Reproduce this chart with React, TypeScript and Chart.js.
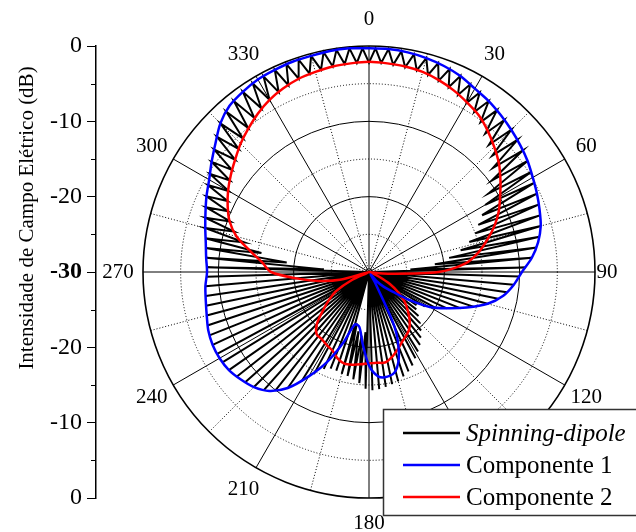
import React, { useEffect, useRef } from 'react';
import { Chart, registerables } from 'chart.js';

Chart.register(...registerables);

const FONT = "'Liberation Serif', 'Times New Roman', serif";

// Polar grid: one category every 5/3 degree, clockwise from the top
const STEP_DEG = 5 / 3;
const ANGLE_COUNT = 216;
const ANGLE_TICKS = [0, 30, 60, 90, 120, 150, 180, 210, 240, 270, 300, 330];

// Radial range in dB
const DB_MIN = -30;
const DB_MAX = 0;

const AXIS_TITLE = 'Intensidade de Campo Elétrico (dB)';
const SERIES_NAMES = ['Spinning-dipole', 'Componente 1', 'Componente 2'];
const SERIES_COLORS = ['#000000', '#0000ff', '#ff0000'];

// Componente 1, every 5 degrees from 0 to 355
const COMP1_DB = [
  -0.3, -0.3, -0.4, -0.6, -0.9, -1.3, -1.9, -2.3, -2.8, -3.3, -3.8, -4.3,
  -4.9, -5.4, -5.9, -6.4, -7.2, -8.3, -9.7, -10.7, -11.9, -13.7, -16.2, -18.6,
  -20.7, -23.6, -26.0, -27.2, -28.4, -29.6, -28.5, -22.0, -18.4, -16.4, -15.9, -16.1,
  -17.6, -20.4, -22.6, -22.8, -20.0, -16.8, -14.0, -11.2, -9.4, -8.4, -7.8, -7.3,
  -7.1, -7.1, -7.3, -7.7, -8.0, -8.2, -8.5, -8.3, -8.0, -7.5, -6.9, -6.2,
  -5.5, -4.5, -3.4, -2.1, -1.2, -0.8, -0.5, -0.4, -0.3, -0.3, -0.2, -0.2,
];

// Componente 2, every 5 degrees from 0 to 355
const COMP2_DB = [
  -2.1, -2.2, -2.3, -2.5, -2.9, -3.4, -4.0, -4.6, -5.5, -6.5, -7.5, -8.7,
  -9.9, -11.0, -12.3, -13.8, -15.3, -17.2, -20.8, -27.5, -29.8, -30.0, -29.5, -28.5,
  -26.8, -25.2, -23.8, -22.7, -21.6, -20.7, -20.2, -19.7, -19.0, -18.3, -17.8, -17.9,
  -17.9, -17.7, -17.5, -17.4, -17.8, -18.5, -18.8, -19.1, -19.2, -20.2, -22.0, -23.5,
  -25.0, -27.5, -29.8, -26.0, -23.2, -20.3, -17.0, -15.8, -14.0, -11.8, -10.3, -9.3,
  -8.4, -7.6, -6.8, -5.9, -5.1, -4.3, -3.6, -3.1, -2.7, -2.5, -2.3, -2.2,
];

// Spinning dipole minima at 0, 3.33, 6.67 ... degrees
const DIPOLE_MIN_DB = [
  -2.2, -2.2, -2.3, -2.4, -2.5, -2.7, -3.0, -3.3, -3.7, -4.1,
  -4.6, -5.2, -6.0, -6.8, -7.5, -8.5, -9.7, -11.0, -12.2, -13.2,
  -14.2, -15.0, -16.1, -17.5, -19.2, -21.2, -24.5, -30, -30, -30,
  -30, -30, -30, -30, -30, -30, -30, -30, -30, -30,
  -30, -30, -30, -30, -30, -30, -30, -30, -30, -30,
  -30, -30, -30, -30, -30, -22.0, -21.5, -22.0, -23.0, -30,
  -30, -30, -30, -30, -30, -30, -30, -30, -30, -30,
  -30, -30, -30, -30, -30, -30, -30, -30, -30, -30,
  -30, -30, -24.0, -19.0, -15.5, -13.0, -11.3, -10.4, -9.6, -9.0,
  -8.5, -7.9, -7.3, -6.8, -6.2, -5.6, -5.0, -4.5, -4.0, -3.6,
  -3.3, -3.0, -2.7, -2.5, -2.4, -2.3, -2.2, -2.2,
];

// Spinning dipole maxima at 1.67, 5, 8.33 ... degrees
const DIPOLE_MAX_DB = [
  -0.3, -0.3, -0.4, -0.5, -0.6, -0.8, -1.0, -1.3, -1.7, -2.0,
  -2.3, -2.6, -3.0, -3.3, -3.6, -4.0, -4.3, -4.7, -5.1, -5.4,
  -5.7, -6.1, -6.4, -6.9, -7.5, -8.3, -9.2, -10.0, -10.7, -11.5,
  -12.5, -13.7, -15.3, -16.9, -18.6, -20.1, -21.3, -22.3, -22.0, -21.2,
  -20.4, -19.6, -18.9, -18.2, -17.6, -17.0, -16.3, -15.8, -15.4, -15.0,
  -14.8, -14.6, -14.4, -14.3, -14.5, -15.2, -15.6, -15.9, -16.0, -16.2,
  -16.2, -15.8, -14.6, -13.0, -11.2, -9.9, -9.0, -8.4, -8.0, -7.6,
  -7.3, -7.2, -7.1, -7.1, -7.2, -7.4, -7.7, -7.9, -8.1, -8.2,
  -8.4, -8.4, -8.3, -8.1, -7.8, -7.5, -7.1, -6.7, -6.2, -5.7,
  -5.2, -4.5, -3.8, -3.0, -2.1, -1.5, -1.1, -0.8, -0.6, -0.5,
  -0.4, -0.3, -0.3, -0.3, -0.2, -0.2, -0.2, -0.3,
];

const angleLabels = Array.from({ length: ANGLE_COUNT }, (_, i) => (i * STEP_DEG).toFixed(2));

// minima and maxima alternate around the circle
const dipoleSeries = DIPOLE_MIN_DB.flatMap((v, k) => [v, DIPOLE_MAX_DB[k]]);

// 5-degree series placed on every third category, gaps spanned by the line
const onFiveDegrees = (values: number[]) =>
  angleLabels.map((_, i) => (i % 3 === 0 ? values[i / 3] : null));

// Angle tick labels around the outer circle
const angleLabelPlugin = {
  id: 'angleLabels',
  afterDatasetsDraw(chart: any) {
    const s = chart.scales.r;
    const ctx = chart.ctx;
    ctx.save();
    ctx.font = `21px ${FONT}`;
    ctx.fillStyle = '#000';
    ctx.textAlign = 'center';
    ctx.textBaseline = 'middle';
    ANGLE_TICKS.forEach((a) => {
      const gap = a === 90 ? 12 : a === 0 ? 27 : 25;
      const p = s.getPointPosition(Math.round(a / STEP_DEG), s.drawingArea + gap);
      ctx.fillText(String(a), p.x, p.y);
    });
    ctx.restore();
  },
};

// Boxed legend in the lower right corner
const boxLegendPlugin = {
  id: 'boxLegend',
  afterDraw(chart: any) {
    const ctx = chart.ctx;
    const x = 383;
    const y = 409;
    ctx.save();
    ctx.fillStyle = '#fff';
    ctx.fillRect(x, y, 270, 107);
    ctx.strokeStyle = '#333';
    ctx.lineWidth = 1.5;
    ctx.strokeRect(x + 0.5, y + 0.5, 270, 106);
    ctx.textBaseline = 'middle';
    ctx.textAlign = 'left';
    SERIES_NAMES.forEach((name, i) => {
      const ds = chart.data.datasets.find((d: any) => d.label === name);
      const cy = y + 24 + i * 32;
      ctx.strokeStyle = ds.borderColor;
      ctx.lineWidth = 2.5;
      ctx.beginPath();
      ctx.moveTo(x + 20, cy);
      ctx.lineTo(x + 77, cy);
      ctx.stroke();
      ctx.fillStyle = '#000';
      ctx.font = `${i === 0 ? 'italic ' : ''}25px ${FONT}`;
      ctx.fillText(name, x + 83, cy + 1);
    });
    ctx.restore();
  },
};

// Minor ticks and the rotated title of the dB axis
const axisExtrasPlugin = {
  id: 'axisExtras',
  afterDraw(chart: any) {
    const s = chart.scales.y;
    const ctx = chart.ctx;
    ctx.save();
    ctx.strokeStyle = '#000';
    ctx.lineWidth = 1;
    [-25, -15, -5, 5, 15, 25].forEach((v) => {
      const py = Math.round(s.getPixelForValue(v)) + 0.5;
      ctx.beginPath();
      ctx.moveTo(s.right - 5, py);
      ctx.lineTo(s.right, py);
      ctx.stroke();
    });
    ctx.translate(27, 218);
    ctx.rotate(-Math.PI / 2);
    ctx.font = `21px ${FONT}`;
    ctx.fillStyle = '#000';
    ctx.textAlign = 'center';
    ctx.textBaseline = 'middle';
    ctx.fillText(AXIS_TITLE, 0, 0);
    ctx.restore();
  },
};

export default function App() {
  const axisRef = useRef<HTMLCanvasElement>(null);
  const polarRef = useRef<HTMLCanvasElement>(null);

  useEffect(() => {
    const axisChart = new Chart(axisRef.current as HTMLCanvasElement, {
      type: 'scatter',
      data: { datasets: [] },
      options: {
        responsive: false,
        animation: false,
        events: [],
        layout: { padding: { top: 46, bottom: 34, left: 0, right: 0 } },
        plugins: { legend: { display: false }, tooltip: { enabled: false } },
        scales: {
          x: { display: false, min: 0, max: 1 },
          y: {
            position: 'left',
            min: DB_MIN,
            max: -DB_MIN,
            afterFit: (s: any) => {
              s.width = 96;
            },
            ticks: {
              stepSize: 10,
              padding: 5,
              color: '#000',
              font: (c: any) => ({
                family: FONT,
                size: 24,
                weight: c.tick && c.tick.value === 0 ? 'bold' : 'normal',
              }),
              callback: (v: any) => String(DB_MIN + Math.abs(Number(v))),
            },
            grid: { drawOnChartArea: false, drawTicks: true, tickLength: 9, color: '#000', lineWidth: 1 },
            border: { display: true, color: '#000', width: 1.5 },
          },
        },
      } as any,
      plugins: [axisExtrasPlugin],
    });

    const polarChart = new Chart(polarRef.current as HTMLCanvasElement, {
      type: 'radar',
      data: {
        labels: angleLabels,
        datasets: [
          {
            label: SERIES_NAMES[1],
            data: onFiveDegrees(COMP1_DB),
            borderColor: SERIES_COLORS[1],
            borderWidth: 2.5,
            tension: 0.3,
            spanGaps: true,
            fill: false,
            pointRadius: 0,
            order: 1,
          },
          {
            label: SERIES_NAMES[2],
            data: onFiveDegrees(COMP2_DB),
            borderColor: SERIES_COLORS[2],
            borderWidth: 2.5,
            tension: 0.3,
            spanGaps: true,
            fill: false,
            pointRadius: 0,
            order: 2,
          },
          {
            label: SERIES_NAMES[0],
            data: dipoleSeries,
            borderColor: SERIES_COLORS[0],
            borderWidth: 2,
            tension: 0,
            fill: false,
            pointRadius: 0,
            order: 3,
          },
        ],
      },
      options: {
        responsive: false,
        animation: false,
        events: [],
        layout: { padding: { left: 143, top: 46, right: 41, bottom: 34 } },
        plugins: { legend: { display: false }, tooltip: { enabled: false } },
        scales: {
          r: {
            min: DB_MIN,
            max: DB_MAX,
            startAngle: 0,
            ticks: { display: false, stepSize: 5 },
            pointLabels: { display: false },
            grid: {
              circular: true,
              color: '#000',
              lineWidth: (c: any) => (c.tick && c.tick.value === DB_MAX ? 1.6 : 1),
            },
            border: {
              dash: (c: any) => (c.tick && c.tick.value % 10 !== 0 ? [1, 2] : []),
            },
            angleLines: {
              display: true,
              color: '#000',
              lineWidth: (c: any) => (c.index % 9 === 0 ? 1 : 0),
              borderDash: (c: any) => (c.index % 18 === 0 ? [] : [1, 2]),
            },
          },
        },
      } as any,
      plugins: [angleLabelPlugin, boxLegendPlugin],
    });

    return () => {
      axisChart.destroy();
      polarChart.destroy();
    };
  }, []);

  return (
    <div style={{ position: 'fixed', left: 0, top: 0, width: 636, height: 532, background: '#fff', overflow: 'hidden' }}>
      <canvas ref={axisRef} width={636} height={532} style={{ position: 'absolute', left: 0, top: 0 }} />
      <canvas ref={polarRef} width={636} height={532} style={{ position: 'absolute', left: 0, top: 0 }} />
    </div>
  );
}
